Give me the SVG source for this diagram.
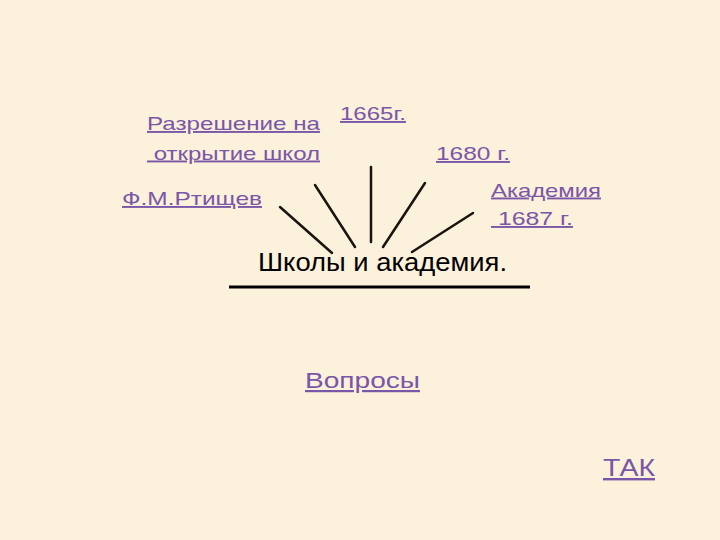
<svg xmlns="http://www.w3.org/2000/svg" width="720" height="540" viewBox="0 0 720 540">
<style>
.lnk{font-family:"Liberation Sans",Arial,sans-serif;font-size:19px;fill:#7a56a8;text-decoration:underline;white-space:pre}
.title{font-family:"Liberation Sans",Arial,sans-serif;font-size:26px;fill:#000}
.ray{stroke:#1a1410;stroke-width:2.5;stroke-linecap:round}
</style>
<defs>
<filter id="tex" x="0" y="0" width="100%" height="100%">
<feTurbulence type="fractalNoise" baseFrequency="0.05" numOctaves="2" seed="3"/>
<feColorMatrix type="matrix" values="0 0 0 0 0.98  0 0 0 0 0.92  0 0 0 0 0.80  0 0 0 0.25 0"/>
<feComposite in2="SourceGraphic" operator="over"/>
</filter>
</defs>
<rect width="720" height="540" fill="#fcf1da"/>
<rect width="720" height="540" fill="#fcf1da" filter="url(#tex)" opacity="0.6"/>
<g id="connectors">
<line class="ray" x1="280" y1="207" x2="332" y2="253"/>
<line class="ray" x1="315" y1="185" x2="355" y2="247"/>
<line class="ray" x1="371" y1="167" x2="371" y2="242"/>
<line class="ray" x1="425" y1="183" x2="383" y2="247"/>
<line class="ray" x1="473" y1="213" x2="412" y2="252"/>
<line x1="229" y1="287" x2="530" y2="287" stroke="#000" stroke-width="3"/>
</g>
<g id="center"><text class="title" x="258" y="271" textLength="249" lengthAdjust="spacingAndGlyphs">Школы и академия.</text></g>
<g id="razreshenie">
<text class="lnk" x="147" y="130" textLength="173" lengthAdjust="spacingAndGlyphs">Разрешение на</text>
<text class="lnk" x="147" y="159.5" textLength="173" lengthAdjust="spacingAndGlyphs"> открытие школ</text>
</g>
<g id="y1665"><text class="lnk" x="340" y="120" textLength="66" lengthAdjust="spacingAndGlyphs">1665г.</text></g>
<g id="y1680"><text class="lnk" x="436" y="160" textLength="74" lengthAdjust="spacingAndGlyphs">1680 г.</text></g>
<g id="rtishchev"><text class="lnk" x="122" y="205" textLength="140" lengthAdjust="spacingAndGlyphs">Ф.М.Ртищев</text></g>
<g id="akademiya">
<text class="lnk" x="491" y="196.5" textLength="110" lengthAdjust="spacingAndGlyphs">Академия</text>
<text class="lnk" x="491" y="225" textLength="82" lengthAdjust="spacingAndGlyphs"> 1687 г.</text>
</g>
<g id="voprosy"><text class="lnk" style="font-size:22px" x="305" y="388" textLength="115" lengthAdjust="spacingAndGlyphs">Вопросы</text></g>
<g id="tak"><text class="lnk" style="font-size:24px" x="603" y="476" textLength="52" lengthAdjust="spacingAndGlyphs">ТАК</text></g>
</svg>
